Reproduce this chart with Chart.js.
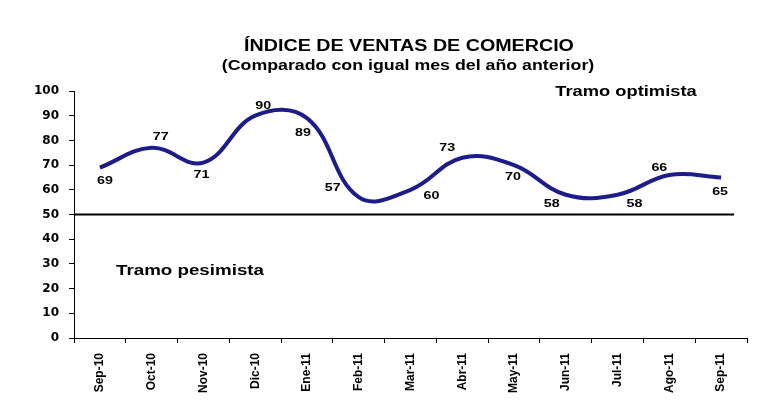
<!DOCTYPE html>
<html>
<head>
<meta charset="utf-8">
<script src="https://cdn.jsdelivr.net/npm/chart.js@4/dist/chart.umd.min.js"></script>
<style>
  html, body { margin: 0; padding: 0; background: #fff; }
  #wrap { width: 768px; height: 407px; }
</style>
</head>
<body>
<div id="wrap"><canvas id="ventas-chart" width="768" height="407"></canvas></div>
<script>
// chart data
const MONTHS = ['Sep-10', 'Oct-10', 'Nov-10', 'Dic-10', 'Ene-11', 'Feb-11', 'Mar-11',
  'Abr-11', 'May-11', 'Jun-11', 'Jul-11', 'Ago-11', 'Sep-11'];
const INDICE = [69, 77, 71, 90, 89, 57, 60, 73, 70, 58, 58, 66, 65];
const Y_TICKS = [0, 10, 20, 30, 40, 50, 60, 70, 80, 90, 100];
const THRESHOLD = 50;

const TITLE = 'ÍNDICE DE VENTAS DE COMERCIO';
const SUBTITLE = '(Comparado con igual mes del año anterior)';
const NOTE_UP = 'Tramo optimista';
const NOTE_DOWN = 'Tramo pesimista';

// where each value label sits relative to its point (dx, dy in px)
const labelOffsets = [
  [5, 13], [9, -11], [-2, 12], [8, -10], [-4, 15], [-26, -9], [21, 6],
  [-15, -10], [-1, 12], [-14, 9], [17, 9], [-10, -7], [-1, 15],
];

const ARIAL = '"Liberation Sans", Arial, sans-serif';

/**
 * Draw text stretched horizontally, centred on (x, y)
 */
function wideText(ctx, text, x, y, font, sx) {
  ctx.save();
  ctx.font = font;
  ctx.fillStyle = '#000';
  ctx.textAlign = 'center';
  ctx.textBaseline = 'middle';
  ctx.translate(x, y);
  ctx.scale(sx, 1);
  ctx.fillText(text, 0, 0);
  ctx.restore();
}

const decorPlugin = {
  id: 'decor',
  beforeDatasetsDraw(chart) {
    const { ctx, chartArea, scales } = chart;
    const y = scales.y.getPixelForValue(THRESHOLD);
    const xEnd = scales.x.getPixelForValue(MONTHS.length - 1) + 13;
    ctx.save();
    ctx.strokeStyle = '#000';
    ctx.lineWidth = 2;
    ctx.beginPath();
    ctx.moveTo(chartArea.left, y);
    ctx.lineTo(xEnd, y);
    ctx.stroke();
    ctx.restore();
  },
  afterDatasetsDraw(chart) {
    const { ctx } = chart;
    const meta = chart.getDatasetMeta(0);

    // value labels
    meta.data.forEach((pt, i) => {
      const [dx, dy] = labelOffsets[i];
      wideText(ctx, String(INDICE[i]), pt.x + dx, pt.y + dy, 'bold 11px ' + ARIAL, 1.3);
    });

    // titles and notes
    wideText(ctx, TITLE, 409, 47, 'bold 16px ' + ARIAL, 1.23);
    wideText(ctx, SUBTITLE, 408, 66, 'bold 14px ' + ARIAL, 1.27);
    wideText(ctx, NOTE_UP, 626, 92, 'bold 15px ' + ARIAL, 1.22);
    wideText(ctx, NOTE_DOWN, 190, 271, 'bold 15px ' + ARIAL, 1.25);
  },
};

const ctx = document.getElementById('ventas-chart').getContext('2d');
const ventasChart = new Chart(ctx, {
  type: 'line',
  data: {
    labels: MONTHS,
    datasets: [
      {
        data: INDICE,
        borderColor: '#1c1c8a',
        borderWidth: 4,
        tension: 0.4,
        pointRadius: 0,
        fill: false,
      },
    ],
  },
  options: {
    responsive: false,
    animation: false,
    devicePixelRatio: 1,
    layout: { padding: { top: 91, right: 21, bottom: 0, left: 0 } },
    plugins: {
      legend: { display: false },
      tooltip: { enabled: false },
      title: { display: false },
    },
    scales: {
      x: {
        offset: true,
        afterFit(scale) { scale.height = 69; },
        grid: { offset: true, drawOnChartArea: false, drawTicks: true, tickLength: 5, color: '#000' },
        border: { color: '#000', width: 1 },
        ticks: {
          color: '#000',
          minRotation: 90,
          maxRotation: 90,
          padding: 10,
          autoSkip: false,
          font: { family: ARIAL, size: 12, weight: 'bold' },
        },
      },
      y: {
        min: 0,
        max: 100,
        afterFit(scale) { scale.width = 74; },
        afterBuildTicks(scale) { scale.ticks = Y_TICKS.map((v) => ({ value: v })); },
        grid: { drawOnChartArea: false, drawTicks: true, tickLength: 5, color: '#000' },
        border: { color: '#000', width: 1 },
        ticks: {
          color: '#000',
          padding: 10,
          font: { family: '"DejaVu Sans", sans-serif', size: 12, weight: 'bold' },
        },
      },
    },
  },
  plugins: [decorPlugin],
});
</script>
</body>
</html>
